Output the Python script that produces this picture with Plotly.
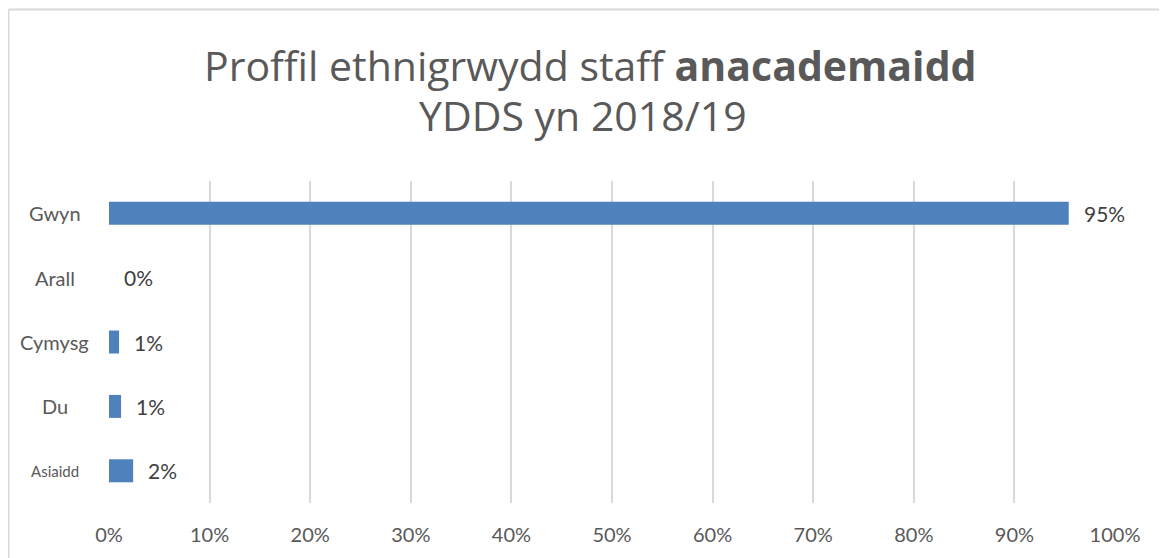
import plotly.graph_objects as go

# Data (share of non-academic staff, %)
categories = ["Asiaidd", "Du", "Cymysg", "Arall", "Gwyn"]
values = [2.4, 1.2, 1.0, 0.0, 95.4]
label_sizes = [15, 20, 20, 20, 20]
x_ticks = [0, 10, 20, 30, 40, 50, 60, 70, 80, 90, 100]
x_ticktext = [f"{v}%" for v in x_ticks]

FONT = "Lato, 'Open Sans', sans-serif"
TITLE_FONT = "'Open Sans', Lato, sans-serif"
GREY = "#595959"

fig = go.Figure()
fig.add_trace(go.Bar(
    x=values, y=categories, orientation="h",
    marker=dict(color="#4f81bd", line=dict(width=0)),
    hoverinfo="skip",
))

# Value labels next to each bar
for cat, val in zip(categories, values):
    fig.add_annotation(x=val, y=cat, xref="x", yref="y", text=f"{val:.0f}%",
                       showarrow=False, xanchor="left", xshift=13,
                       font=dict(family=FONT, size=21, color="#404040"))

# Category labels, centred left of the plot area
for cat, size in zip(categories, label_sizes):
    fig.add_annotation(x=-0.0537, y=cat, xref="paper", yref="y", text=cat,
                       showarrow=False, xanchor="center",
                       font=dict(family=FONT, size=size, color=GREY))

# Two-line title
fig.add_annotation(x=0.4791, y=1.359, xref="paper", yref="paper",
                   text="Proffil ethnigrwydd staff <b>anacademaidd</b>",
                   showarrow=False, xanchor="center", yanchor="middle",
                   font=dict(family=TITLE_FONT, size=41, color=GREY))
fig.add_annotation(x=0.4712, y=1.2037, xref="paper", yref="paper",
                   text="YDDS yn 2018/19",
                   showarrow=False, xanchor="center", yanchor="middle",
                   font=dict(family=TITLE_FONT, size=41, color=GREY))

# Chart border (top and left edge visible in the reference)
border = dict(color="#d9d9d9", width=2)
fig.add_shape(type="line", xref="paper", yref="paper", x0=-0.0999, x1=-0.0999,
              y0=-0.3, y1=1.5326, line=border)
fig.add_shape(type="line", xref="paper", yref="paper", x0=-0.0999, x1=1.1,
              y0=1.5326, y1=1.5326, line=border)

fig.update_layout(
    width=1159, height=550,
    margin=dict(l=101, r=52, t=173, b=55),
    paper_bgcolor="#fff", plot_bgcolor="#fff",
    bargap=0.643,
    showlegend=False,
    font=dict(family=FONT, color=GREY),
    xaxis=dict(
        range=[0, 100], tickvals=x_ticks, ticktext=x_ticktext,
        showgrid=True, gridcolor="#d9d9d9", gridwidth=2,
        zeroline=True, zerolinecolor="#fff", zerolinewidth=2,
        showline=False, ticks="", ticklabelstandoff=18,
        tickfont=dict(family=FONT, size=20, color=GREY),
        fixedrange=True,
    ),
    yaxis=dict(showticklabels=False, showgrid=False, zeroline=False,
               ticks="", fixedrange=True),
)

fig.write_html("out.html")
